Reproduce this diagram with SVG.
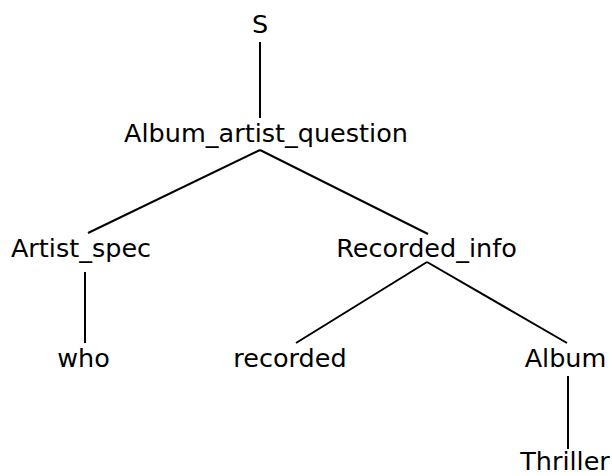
<svg xmlns="http://www.w3.org/2000/svg" width="612" height="476" viewBox="0 0 612 476">
  <style>
    .lbl { font-family: "DejaVu Sans", sans-serif; font-size: 25.5px; fill: #000; text-anchor: middle; }
    .edge { stroke: #000; stroke-width: 2; fill: none; }
  </style>
  <rect width="612" height="476" fill="#fff"/>
  <g id="connectors">
    <line class="edge" x1="260" y1="42" x2="260" y2="118"/>
    <line class="edge" x1="260" y1="150" x2="88" y2="233"/>
    <line class="edge" x1="260" y1="150" x2="428" y2="234"/>
    <line class="edge" x1="85" y1="272" x2="85" y2="343"/>
    <line class="edge" x1="427" y1="262" x2="296" y2="343"/>
    <line class="edge" x1="427" y1="262" x2="567" y2="343"/>
    <line class="edge" x1="568" y1="376" x2="568" y2="449"/>
  </g>
  <g id="n-S"><text class="lbl" x="260" y="33">S</text></g>
  <g id="n-album-artist-question"><text class="lbl" x="266" y="142">Album_artist_question</text></g>
  <g id="n-artist-spec"><text class="lbl" x="81" y="257">Artist_spec</text></g>
  <g id="n-recorded-info"><text class="lbl" x="426.5" y="257">Recorded_info</text></g>
  <g id="n-who"><text class="lbl" x="83.5" y="367">who</text></g>
  <g id="n-recorded"><text class="lbl" x="290" y="367">recorded</text></g>
  <g id="n-album"><text class="lbl" x="565.5" y="367">Album</text></g>
  <g id="n-thriller"><text class="lbl" x="565" y="470">Thriller</text></g>
</svg>
